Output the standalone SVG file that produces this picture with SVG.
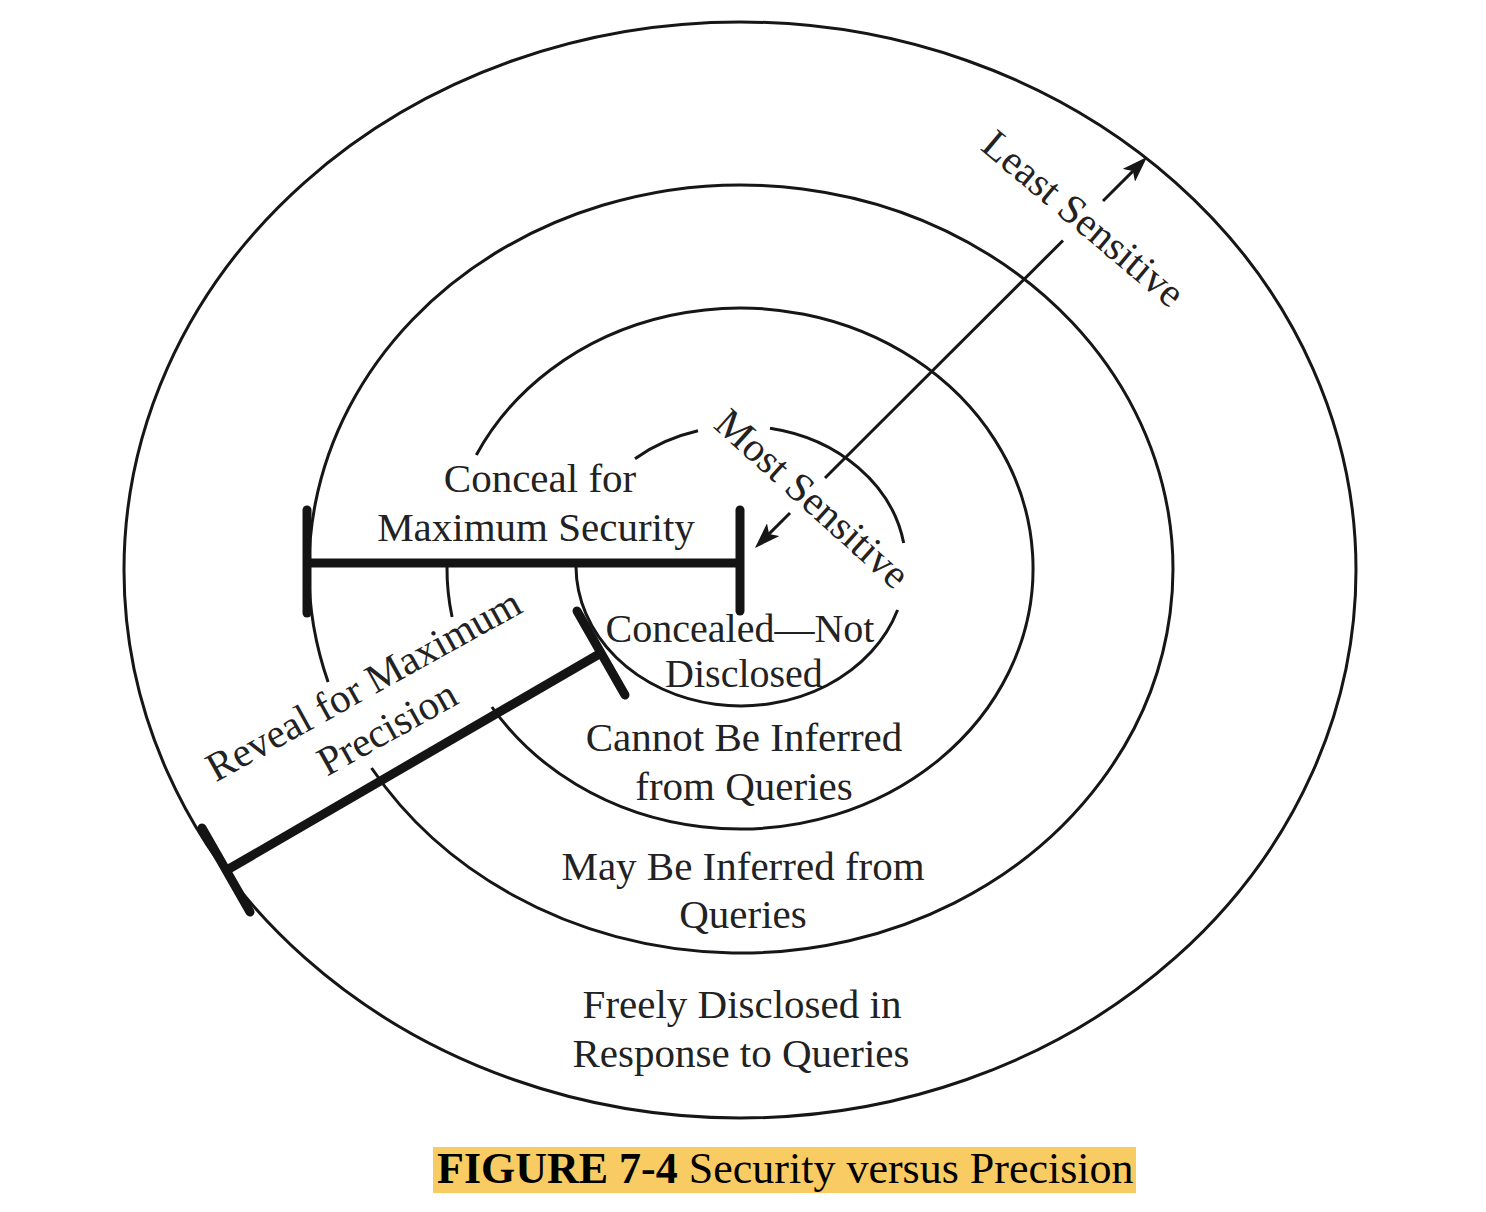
<svg xmlns="http://www.w3.org/2000/svg" width="1486" height="1212" viewBox="0 0 1486 1212">
  <style>
    .ring { fill: none; stroke: #161616; stroke-width: 3; }
    .bar { stroke: #141414; stroke-width: 9; stroke-linecap: butt; fill: none; }
    .cap { stroke: #141414; stroke-width: 9; stroke-linecap: round; fill: none; }
    .arw { stroke: #161616; stroke-width: 3; fill: none; }
    .lbl { font-family: "Liberation Serif", "Times New Roman", serif; font-size: 41px; fill: #222; text-anchor: middle; }
    .core { font-size: 40px; }
    .cap-text { font-family: "Liberation Serif", "Times New Roman", serif; font-size: 44px; fill: #000; }
  </style>
  <defs>
    <marker id="head" viewBox="0 0 26 18" refX="6" refY="9" markerWidth="26" markerHeight="18" markerUnits="userSpaceOnUse" orient="auto">
      <path d="M0,0 L26,9 L0,18 L6,9 Z" fill="#161616"/>
    </marker>
  </defs>
  <rect width="1486" height="1212" fill="#fff"/>

  <g id="ring-outer">
    <ellipse class="ring" cx="740" cy="570" rx="616" ry="548"/>
    <text class="lbl" x="742" y="1018">Freely Disclosed in</text>
    <text class="lbl" x="741" y="1067">Response to Queries</text>
  </g>

  <g id="ring-2">
    <path class="ring" d="M 328.1 682 A 432 384 0 1 1 371.5 768"/>
    <text class="lbl" x="743" y="880">May Be Inferred from</text>
    <text class="lbl" x="743" y="928">Queries</text>
  </g>

  <g id="ring-3">
    <path class="ring" d="M 476.3 455 A 293 260.5 0 1 1 491.9 707"/>
    <path class="ring" d="M 452.1 617 A 293 260.5 0 0 1 447 567"/>
    <text class="lbl" x="744" y="751">Cannot Be Inferred</text>
    <text class="lbl" x="744" y="800">from Queries</text>
  </g>

  <g id="ring-core">
    <path class="ring" d="M 635 458.7 A 165 140 0 0 1 698 430.8"/>
    <path class="ring" d="M 770 428.2 A 165 140 0 0 1 903.7 543"/>
    <path class="ring" d="M 897.6 610 A 165 140 0 0 1 576 567"/>
    <text class="lbl core" x="740" y="642">Concealed—Not</text>
    <text class="lbl core" x="744" y="687">Disclosed</text>
  </g>

  <g id="conceal-bar">
    <line class="bar" x1="307" y1="563" x2="740" y2="563"/>
    <line class="cap" x1="307" y1="510" x2="307" y2="613"/>
    <line class="cap" x1="740" y1="510" x2="740" y2="611"/>
    <text class="lbl" x="540" y="492">Conceal for</text>
    <text class="lbl" x="536" y="541">Maximum Security</text>
  </g>

  <g id="reveal-bar">
    <line class="bar" x1="227" y1="870" x2="601" y2="653"/>
    <line class="cap" x1="577" y1="611" x2="625" y2="695"/>
    <line class="cap" x1="202" y1="828" x2="250" y2="912"/>
    <g transform="translate(370,697) rotate(-29)">
      <text class="lbl" x="0" y="0">Reveal for Maximum</text>
      <text class="lbl" x="0" y="49">Precision</text>
    </g>
  </g>

  <g id="connectors">
    <line class="arw" x1="790" y1="513" x2="769.1" y2="533.9" marker-end="url(#head)"/>
    <line class="arw" x1="825" y1="478" x2="1063" y2="240.5"/>
    <line class="arw" x1="1103" y1="201" x2="1132.9" y2="171.1" marker-end="url(#head)"/>
    <text class="lbl" transform="translate(812,499) rotate(42)" x="0" y="13">Most Sensitive</text>
    <text class="lbl" transform="translate(1083,219) rotate(40)" x="0" y="13">Least Sensitive</text>
  </g>

  <g id="caption">
    <rect x="433" y="1147" width="703" height="46" fill="#F9CB63"/>
    <text class="cap-text" x="437" y="1183"><tspan font-weight="bold">FIGURE 7-4</tspan> Security versus Precision</text>
  </g>
</svg>
